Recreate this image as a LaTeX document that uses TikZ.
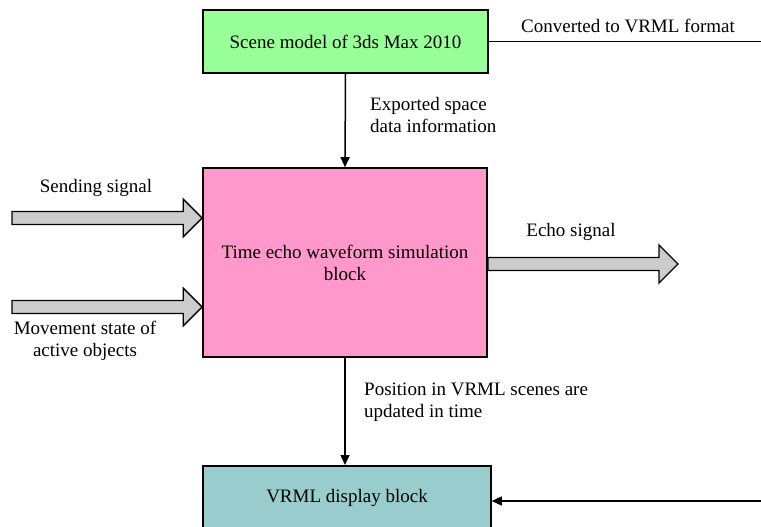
\documentclass[tikz,border=0pt]{standalone}
\usepackage{fontspec}
\setmainfont{Liberation Serif}
\usetikzlibrary{arrows.meta,calc}
\definecolor{scenegreen}{HTML}{99FF99}
\definecolor{simpink}{HTML}{FF99CC}
\definecolor{vrmlteal}{HTML}{99CCCC}
\definecolor{sigray}{HTML}{CCCCCC}
\newcommand{\ArrTip}{Triangle[length=10pt,width=9pt]}
\tikzset{box/.style={draw,line width=1.6pt,inner sep=0,align=center},
  conn/.style={line width=1.5pt,-{\ArrTip}},
  lbl/.style={inner sep=0,align=left},
  sigarr/.style={draw,line width=1.4pt,fill=sigray,line join=miter}}
% block arrow from #1 to #2 (horizontal)
\newcommand{\SigArrow}[2]{\path[sigarr]($(#1)+(0,6.5)$)--($(#2)+(-19,6.5)$)--($(#2)+(-19,19)$)--(#2)--($(#2)+(-19,-19)$)--($(#2)+(-19,-6.5)$)--($(#1)+(0,-6.5)$)--cycle;}

\begin{document}
\begin{tikzpicture}[x=1pt,y=-1pt,font=\fontsize{19}{22}\selectfont]
\useasboundingbox(0,0)rectangle(761,527);
\node[box,fill=scenegreen,minimum width=285pt,minimum height=63pt](scene)at(345.5,41.5){Scene model of 3ds Max 2010};
\node[box,fill=simpink,minimum width=284pt,minimum height=189pt](sim)at(345,262.5){Time echo waveform simulation\\block};
\node[box,fill=vrmlteal,minimum width=288pt,minimum height=64pt,anchor=north](vrml)at(347,465){VRML display block};
\coordinate(vrmlout)at(761,41.5);\coordinate(vrmlin)at(761,501);
\coordinate(sendin)at(12,218);\coordinate(movein)at(12,307);\coordinate(echoout)at(678,264);
\draw[line width=1.5pt](scene.east)--(vrmlout);
\draw[conn](scene.south)--(sim.north);
\draw[conn](sim.south)--(sim.south|-vrml.north);
\draw[conn](vrmlin)--(vrmlin-|vrml.east);
\SigArrow{sendin}{sendin-|sim.west}
\SigArrow{movein}{movein-|sim.west}
\SigArrow{echoout-|sim.east}{echoout}
\node[lbl](convlbl)at(628,26){Converted to VRML format};
\node[lbl,anchor=west](explbl)at(370,115){Exported space\\data information};
\node[lbl](sendlbl)at(96,188){Sending signal};
\node[lbl,align=center](movelbl)at(85,341){Movement state of\\active objects};
\node[lbl](echolbl)at(571,232){Echo signal};
\node[lbl,anchor=west](poslbl)at(364,402){Position in VRML scenes are\\updated in time};
\end{tikzpicture}
\end{document}
